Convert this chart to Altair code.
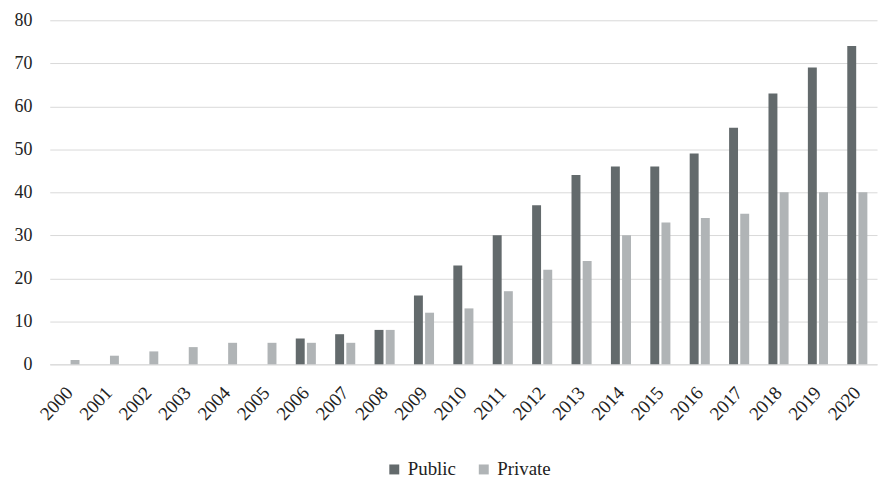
import altair as alt
import pandas as pd

years = [str(y) for y in range(2000, 2021)]
public = [0, 0, 0, 0, 0, 0, 6, 7, 8, 16, 23, 30, 37, 44, 46, 46, 49, 55, 63, 69, 74]
private = [1, 2, 3, 4, 5, 5, 5, 5, 8, 12, 13, 17, 22, 24, 30, 33, 34, 35, 40, 40, 40]
series = ["Public", "Private"]
colors = ["#636a6c", "#b0b4b6"]

rows = []
for i, y in enumerate(years):
    rows.append({"year": y, "type": "Public", "value": public[i]})
    rows.append({"year": y, "type": "Private", "value": private[i]})
df = pd.DataFrame(rows)

FONT = "Liberation Serif"

chart = alt.Chart(df).mark_bar(stroke=None).encode(
    x=alt.X("year:N", sort=years,
            scale=alt.Scale(paddingInner=0.49, paddingOuter=0.245),
            axis=alt.Axis(title=None, labelAngle=-47, labelFontSize=19, labelPadding=25,
                          labelFont=FONT, labelColor="#222222", labelAlign="right",
                          labelBaseline="middle",
                          ticks=False, domain=True, domainColor="#d9d9d9", grid=False)),
    xOffset=alt.XOffset("type:N", sort=series, scale=alt.Scale(paddingInner=0.2)),
    y=alt.Y("value:Q", scale=alt.Scale(domain=[0, 80]),
            axis=alt.Axis(title=None, values=list(range(0, 81, 10)), labelFontSize=18,
                          labelFont=FONT, labelColor="#222222",
                          labelPadding=18, ticks=False, domain=False, grid=True,
                          gridColor="#d9d9d9", gridWidth=1)),
    color=alt.Color("type:N", sort=series,
                    scale=alt.Scale(domain=series, range=colors),
                    legend=alt.Legend(title=None, orient="none", direction="horizontal",
                                      legendX=337, legendY=442, symbolType="square",
                                      symbolSize=100, symbolStrokeWidth=0, labelFontSize=19,
                                      labelFont="Liberation Serif, Times New Roman, serif",
                                      labelColor="#222222",
                                      labelOffset=4, columnPadding=18, padding=0)),
).properties(
    width=832, height=346,
    autosize=alt.AutoSizeParams(type="none"),
    padding={"left": 42, "top": 11, "right": 2, "bottom": 114},
).configure_view(stroke=None)

chart.save("out.html", embed_options={"renderer": "svg", "actions": False})
